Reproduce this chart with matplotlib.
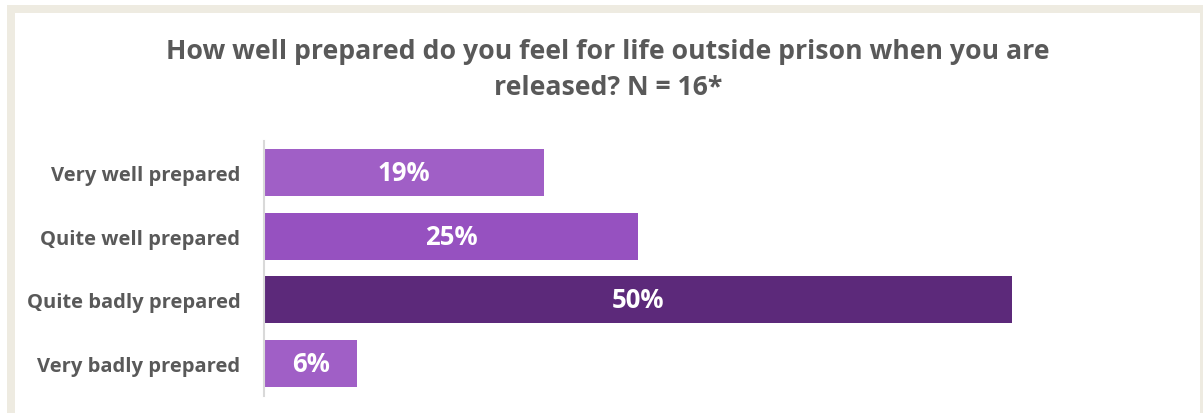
import matplotlib.pyplot as plt
from matplotlib.patches import Rectangle

categories = ['Very well prepared', 'Quite well prepared', 'Quite badly prepared', 'Very badly prepared']
values = [18.75, 25, 50, 6.25]  # N = 16 -> 3, 4, 8, 1 responses
value_labels = ['19%', '25%', '50%', '6%']
colors = ['#A05FC6', '#9651C0', '#5C297A', '#A05FC6']
title = 'How well prepared do you feel for life outside prison when you are\nreleased? N = 16*'

W, H = 1203, 414
fig = plt.figure(figsize=(W / 100, H / 100), dpi=100)
fig.patch.set_facecolor('white')

# beige frame
beige = '#EEEBE1'
fig.patches.append(Rectangle((7 / W, 0), (W - 7) / W, (H - 6) / H, transform=fig.transFigure,
                             facecolor=beige, edgecolor='none', zorder=-2))
fig.patches.append(Rectangle((15 / W, 0), (1200 - 15) / W, (H - 14) / H, transform=fig.transFigure,
                             facecolor='white', edgecolor='none', zorder=-1))

left, right = 264, 1191.5
top, bottom = 141.5, 396.5
ax = fig.add_axes([left / W, (H - bottom) / H, (right - left) / W, (bottom - top) / H])
ax.set_facecolor('none')

y = range(len(categories))
ax.barh(y, values, height=0.735, color=colors, zorder=2)
for i, (v, lab) in enumerate(zip(values, value_labels)):
    ax.text(v / 2, i, lab, ha='center', va='center', color='white',
            fontsize=18.5, fontweight='bold', family='Open Sans')

ax.set_xlim(0, 62)
ax.set_ylim(3.5, -0.5)
ax.set_yticks(list(y))
ax.set_yticklabels(categories, fontsize=14.5, fontweight='bold', color='#595959', family='Open Sans')
ax.tick_params(axis='y', length=0, pad=17)
ax.set_xticks([])
for s in ['top', 'right', 'bottom']:
    ax.spines[s].set_visible(False)
ax.spines['left'].set_color('#D9D9D9')
ax.spines['left'].set_linewidth(1.5)

fig.text(608 / W, 1 - 70 / H, title, ha='center', va='center', fontsize=19.2,
         fontweight='bold', color='#595959', family='Open Sans', linespacing=1.5)

fig.savefig('out.png', dpi=100)
